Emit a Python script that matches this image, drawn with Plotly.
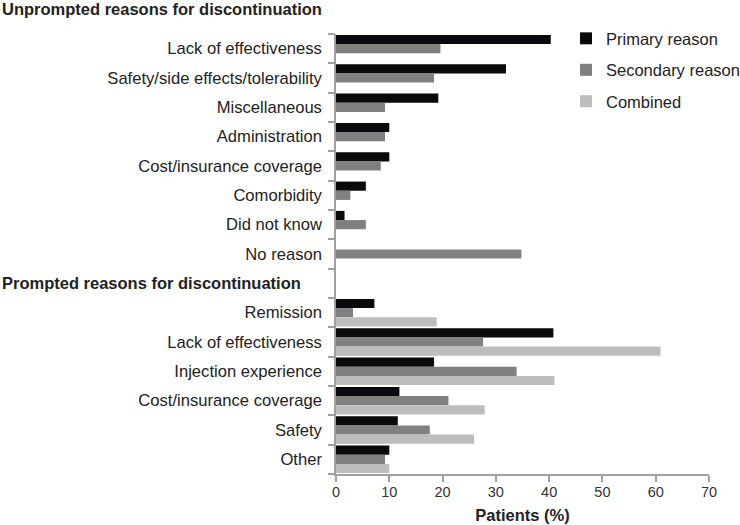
import plotly.graph_objects as go

categories = [
    "Lack of effectiveness",
    "Safety/side effects/tolerability",
    "Miscellaneous",
    "Administration",
    "Cost/insurance coverage",
    "Comorbidity",
    "Did not know",
    "No reason",
    " ",
    "Remission",
    "Lack of effectiveness ",
    "Injection experience",
    "Cost/insurance coverage ",
    "Safety",
    "Other",
]
tick_labels = [c.strip() for c in categories]

primary = [40.3, 31.9, 19.2, 10.0, 10.0, 5.6, 1.6, None, None,
           7.2, 40.8, 18.4, 11.9, 11.6, 10.0]
secondary = [19.6, 18.4, 9.2, 9.2, 8.4, 2.7, 5.6, 34.8, None,
             3.2, 27.6, 33.9, 21.1, 17.6, 9.2]
combined = [None, None, None, None, None, None, None, None, None,
            18.9, 60.9, 41.0, 27.9, 25.9, 10.0]

series = [
    ("Primary reason", primary, "#0a0a0c"),
    ("Secondary reason", secondary, "#808080"),
    ("Combined", combined, "#bdbdbd"),
]

FONT = "Liberation Sans, Arial, Helvetica, sans-serif"

fig = go.Figure()
for i, (name, vals, color) in enumerate(series):
    fig.add_trace(go.Bar(
        y=categories, x=vals, name=name, orientation="h",
        marker=dict(color=color, line=dict(width=0)),
        legendgroup=f"g{i}",
    ))

fig.update_layout(
    template="none",
    width=740, height=525,
    margin=dict(l=336, r=31, t=34, b=51, autoexpand=False),
    barmode="group", bargap=0.06, bargroupgap=0,
    plot_bgcolor="white", paper_bgcolor="white",
    font=dict(family=FONT, size=16.5, color="#222222"),
    legend=dict(x=0.6166, y=1.0293, xanchor="left", yanchor="top",
                font=dict(size=16.5, color="#222222"), tracegroupgap=7,
                bgcolor="rgba(0,0,0,0)", borderwidth=0),
    xaxis=dict(range=[0, 70], dtick=10, showgrid=False, zeroline=False,
               automargin=False,
               showline=True, linecolor="#a0a0a0", linewidth=1.5,
               ticks="outside", ticklen=6, tickcolor="#a0a0a0", tickwidth=1.5,
               ticklabelstandoff=-2,
               tickfont=dict(size=14.5, color="#333333"),
               title=dict(text="<b>Patients (%)</b>", font=dict(size=16.5, color="#222222"), standoff=10)),
    yaxis=dict(type="category", categoryorder="array", categoryarray=categories,
               tickmode="array", tickvals=categories, ticktext=tick_labels,
               autorange="reversed", showgrid=False, zeroline=False,
               automargin=False,
               showline=True, linecolor="#a0a0a0", linewidth=1.5,
               ticks="outside", ticklen=6, tickcolor="#a0a0a0", tickwidth=1.5,
               tickson="boundaries", ticklabelstandoff=9,
               tickfont=dict(size=16.6, color="#222222")),
)

fig.add_annotation(text="<b>Unprompted reasons for discontinuation</b>",
                   xref="paper", yref="paper", x=-0.9, y=1.0557,
                   xanchor="left", yanchor="middle", showarrow=False,
                   font=dict(size=16.5, color="#222222"))
fig.add_annotation(text="<b>Prompted reasons for discontinuation</b>",
                   xref="paper", yref="y", x=-0.9, y=" ",
                   xanchor="left", yanchor="middle", showarrow=False,
                   font=dict(size=16.5, color="#222222"))

fig.write_html("out.html", config={"displayModeBar": False},
               post_script="document.body.style.margin='0';")
